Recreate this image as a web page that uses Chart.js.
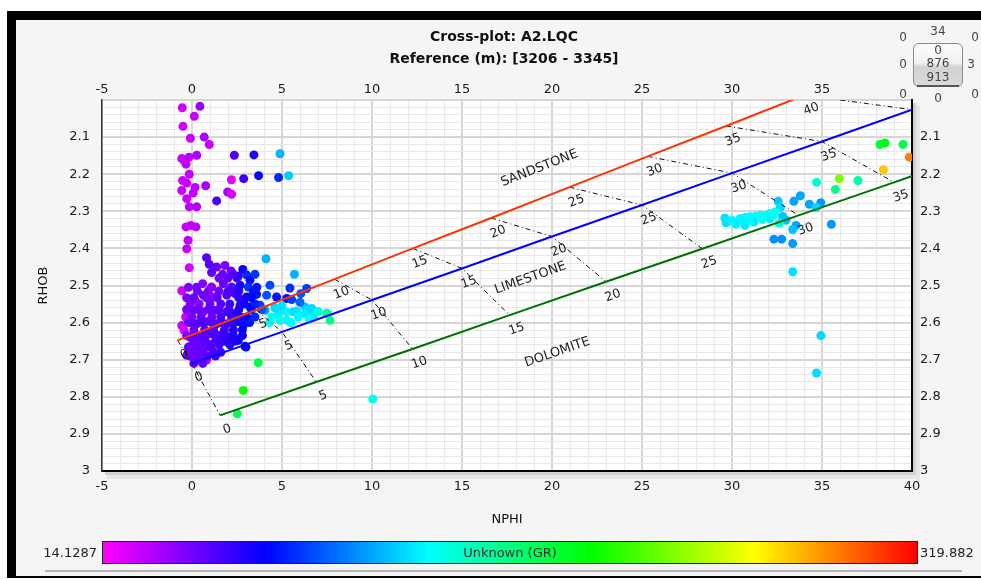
<!DOCTYPE html>
<html>
<head>
<meta charset="utf-8">
<title>Cross-plot: A2.LQC</title>
<script src="https://cdn.jsdelivr.net/npm/chart.js@4.4.0/dist/chart.umd.min.js"></script>
<style>
	html, body { margin: 0; padding: 0; background: #fff; }
	body { width: 981px; height: 579px; position: relative; overflow: hidden; font-family: "DejaVu Sans", Verdana, sans-serif; }
	#frame { position: absolute; left: 7px; top: 11px; width: 974px; height: 567px; box-sizing: border-box;
		border-left: 9px solid #000; border-top: 9px solid #000; border-bottom: 2px solid #000; background: #f5f5f5; }
	#plot { position: absolute; left: 0; top: 0; }
	.nav { position: absolute; transform: translate(-50%, -50%); font-size: 12px; color: #444; line-height: 1; white-space: nowrap; }
	#navbox { position: absolute; left: 913px; top: 43px; width: 50px; height: 44px; box-sizing: border-box; border: 1px solid #8a8a8a;
		border-radius: 6px; background: linear-gradient(#fdfdfd, #f1f1f1 45%, #d2d2d2 55%, #dadada); }
	#navline { position: absolute; left: 917px; top: 85px; width: 42px; height: 2px; background: #555; }
	#cbar { position: absolute; left: 102px; top: 541px; width: 816px; height: 23px; box-sizing: border-box; border: 1px solid #222; }
	#cbarText { position: absolute; left: 0; right: 0; top: 3px; text-align: center; font-size: 13px; color: #333; }
	.cbLabel { position: absolute; top: 545px; font-size: 13px; color: #222; }
	#rule { position: absolute; left: 45px; top: 570px; width: 917px; height: 2px; background: #b4b4b4; }
</style>
</head>
<body>
<div id="frame"></div>
<canvas id="plot" width="981" height="579"></canvas>

<div class="nav" style="left:938px; top:31px;">34</div>
<div class="nav" style="left:903px; top:37px;">0</div>
<div class="nav" style="left:975px; top:37px;">0</div>
<div id="navbox"></div>
<div id="navline"></div>
<div class="nav" style="left:938px; top:50px;">0</div>
<div class="nav" style="left:938px; top:63px;">876</div>
<div class="nav" style="left:938px; top:77px;">913</div>
<div class="nav" style="left:903px; top:64px;">0</div>
<div class="nav" style="left:971px; top:64px;">3</div>
<div class="nav" style="left:903px; top:94px;">0</div>
<div class="nav" style="left:938px; top:98px;">0</div>
<div class="nav" style="left:975px; top:94px;">0</div>

<div id="cbar"><div id="cbarText">Unknown (GR)</div></div>
<div class="cbLabel" id="cbMin" style="right:884px;"></div>
<div class="cbLabel" id="cbMax" style="left:920px;"></div>
<div id="rule"></div>

<script>
// log samples: neutron porosity, bulk density, gamma ray (colour)
const nphi = [
	-0.54, 0.44, 0.13, -0.50, -0.09, 0.68, 0.96, -0.57, -0.44, -0.17, 0.26, -0.33, 2.35, 3.44, 4.89,
	-0.15, -0.52, -0.29, 2.19, 2.87, 3.70, 4.81, 5.37, -0.57, 0.17, 0.06, 0.76, 1.98, 2.20, 1.37,
	-0.29, -0.15, 0.26, -0.33, -0.07, 0.22, -0.22, -0.29, -0.15, -0.57, -0.35, -0.57, -0.44,
	0.81, 0.96, 1.37, 1.83, 1.09, 2.17, 2.82, 4.11, 2.57, 3.04, 3.22, 5.69, 0.59, 1.09, 1.74, 2.20,
	2.67, 3.13, 4.33, 5.44, 0.17, 0.63, 1.19, 1.93, 2.39, 3.04, 3.59, 4.15, 4.70, 5.26, 6.28, 6.46,
	7.48, 7.67, 6.74, 5.81, 5.26, 4.80, 4.43, 4.89, 4.06, 3.78, 3.22, 2.67, 0.07, 0.63, 1.28, 1.93,
	2.39, 3.04, 0.26, 0.81, 1.37, 1.93, 2.48, 2.85, -0.11, 0.44, 1.00, 1.56, 2.02, 2.57, 3.00,
	-0.20, 0.35, 0.91, -0.29, 0.81, 3.68, 6.37, 6.04, 5.54, 6.65, 5.63, 6.28, 7.52, 5.26, 2.94,
	2.85, 2.52, 2.02, 10.04,
	0.30, 0.90, 1.50, 2.00, 2.60, 3.40, -0.10, 0.40, 1.00, 1.60, 2.10, 2.90, 3.50, 0.00, 0.50,
	1.10, 1.60, 2.20, 2.70, 3.50, 0.10, 0.70, 1.20, 1.80, 2.30, 2.80, 0.20, 0.75, 1.30, 1.80,
	2.40, 0.10, 0.60, 1.20, 1.60, 0.20, 0.50, 1.50, 2.00, 2.50,
	-0.20, 0.25, 3.60, -0.30, 0.10, 0.80, 1.40, 2.60, 3.30, -0.30, 0.35, 0.90, 1.50, 2.05, 2.60,
	3.30, 3.90, -0.20, 0.00, 0.55, 1.10, 1.65, 2.20, 3.20, -0.30, 0.25, 0.75, 1.30, 1.85, 2.30,
	2.80, 0.00, 0.60, 1.10, 1.50, 2.10, -0.10, 0.35, 0.85, 1.30, 0.10, 0.60, 1.70, 2.30, 3.50,
	4.60, 5.00, 5.90, 6.50, 4.30, 5.50, 6.00, 7.00,
	38.22, 38.50, 39.50, 39.85, 38.41, 35.96, 37.00, 34.70, 35.74, 33.80, 33.44, 32.57, 34.30,
	34.93, 34.67, 32.68, 32.39, 32.10, 31.83, 31.56, 31.28, 31.00, 30.72, 30.44, 29.60, 29.67,
	30.22, 30.72, 31.22, 32.10, 32.81, 33.00, 32.63, 33.56, 33.37, 35.52, 32.33, 32.76, 33.37,
	33.37, 34.94, 34.70, 31.00, 31.70, 32.30, 30.00
];
const rhob = [
	2.021, 2.017, 2.044, 2.071, 2.103, 2.100, 2.120, 2.158, 2.163, 2.154, 2.149, 2.173, 2.149, 2.148, 2.145,
	2.200, 2.217, 2.224, 2.215, 2.212, 2.204, 2.209, 2.204, 2.244, 2.236, 2.251, 2.231, 2.248, 2.254, 2.272,
	2.266, 2.288, 2.288, 2.342, 2.338, 2.342, 2.378, 2.401, 2.452, 2.514, 2.585, 2.608, 2.621,
	2.425, 2.443, 2.450, 2.446, 2.465, 2.461, 2.457, 2.428, 2.475, 2.472, 2.486, 2.470, 2.495, 2.504, 2.495, 2.504,
	2.499, 2.504, 2.499, 2.507, 2.540, 2.526, 2.531, 2.526, 2.522, 2.531, 2.524, 2.526, 2.531, 2.535, 2.558, 2.567,
	2.574, 2.594, 2.585, 2.569, 2.571, 2.576, 2.585, 2.594, 2.567, 2.553, 2.558, 2.553, 2.567, 2.571, 2.567, 2.571,
	2.576, 2.585, 2.603, 2.598, 2.603, 2.603, 2.598, 2.607, 2.639, 2.639, 2.630, 2.634, 2.639, 2.648, 2.666,
	2.666, 2.670, 2.666, 2.688, 2.701, 2.708, 2.508, 2.522, 2.538, 2.562, 2.571, 2.576, 2.576, 2.594, 2.664,
	2.783, 2.846, 2.652, 2.806,
	2.515, 2.515, 2.515, 2.515, 2.515, 2.515, 2.550, 2.550, 2.550, 2.550, 2.550, 2.550, 2.550, 2.585, 2.585,
	2.585, 2.585, 2.585, 2.585, 2.585, 2.620, 2.620, 2.620, 2.620, 2.620, 2.620, 2.650, 2.650, 2.650, 2.650,
	2.650, 2.680, 2.680, 2.680, 2.680, 2.700, 2.700, 2.480, 2.480, 2.480,
	2.505, 2.505, 2.505, 2.533, 2.533, 2.533, 2.533, 2.533, 2.533, 2.565, 2.565, 2.565, 2.565, 2.565, 2.565,
	2.565, 2.565, 2.600, 2.600, 2.600, 2.600, 2.600, 2.600, 2.600, 2.635, 2.635, 2.635, 2.635, 2.635, 2.635,
	2.635, 2.660, 2.660, 2.660, 2.660, 2.660, 2.690, 2.690, 2.690, 2.690, 2.710, 2.710, 2.470, 2.470, 2.470,
	2.560, 2.555, 2.585, 2.590, 2.600, 2.600, 2.545, 2.570,
	2.120, 2.116, 2.120, 2.154, 2.188, 2.212, 2.217, 2.222, 2.241, 2.258, 2.273, 2.273, 2.281,
	2.277, 2.290, 2.290, 2.302, 2.306, 2.311, 2.311, 2.314, 2.315, 2.317, 2.320, 2.318, 2.331,
	2.335, 2.338, 2.329, 2.320, 2.314, 2.324, 2.332, 2.338, 2.349, 2.335, 2.375, 2.375, 2.387,
	2.463, 2.635, 2.736, 2.325, 2.322, 2.310, 2.325
];
const gr = [
	25, 38, 28, 25, 27, 35, 28, 25, 27, 30, 33, 28, 55, 68, 118,
	28, 25, 27, 20, 62, 72, 84, 124, 27, 30, 28, 35, 35, 22, 58,
	27, 30, 32, 28, 27, 30, 30, 28, 25, 25, 25, 27, 22,
	55, 55, 50, 45, 52, 50, 72, 118, 65, 85, 78, 118, 45, 42, 50, 55,
	70, 88, 92, 86, 48, 52, 40, 55, 58, 72, 80, 95, 80, 78, 125, 128,
	152, 165, 130, 130, 135, 132, 140, 142, 115, 90, 75, 65, 50, 45, 52, 60,
	70, 75, 55, 52, 58, 62, 70, 72, 52, 55, 58, 62, 66, 72, 75,
	50, 55, 55, 48, 30, 182, 90, 95, 90, 128, 130, 132, 158, 135, 72,
	200, 178, 70, 140,
	48, 45, 50, 58, 66, 78, 45, 42, 50, 55, 62, 72, 82, 45, 50,
	48, 56, 64, 70, 85, 52, 58, 55, 60, 68, 75, 50, 55, 60, 64,
	68, 48, 52, 58, 60, 50, 52, 48, 52, 62,
	45, 47, 80, 45, 50, 48, 52, 64, 76, 48, 50, 52, 54, 60, 68,
	78, 95, 50, 52, 56, 55, 60, 66, 80, 48, 52, 55, 58, 63, 68,
	72, 50, 52, 56, 60, 66, 48, 50, 55, 58, 50, 52, 50, 55, 88,
	128, 130, 135, 140, 138, 135, 100, 145,
	185, 195, 178, 290, 272, 228, 158, 148, 165, 115, 115, 125, 115,
	112, 128, 128, 140, 138, 140, 138, 136, 135, 135, 134, 130, 130,
	132, 132, 132, 132, 122, 122, 145, 115, 122, 112, 110, 110, 112,
	130, 128, 128, 135, 138, 140, 134
];
const grMin = 14.1287;
const grMax = 319.882;

// lithology lines, one point per porosity step
const porosity = [0, 5, 10, 15, 20, 25, 30, 35, 40];
const sandNphi = [-0.80, 3.57, 7.92, 12.27, 16.62, 20.97, 25.32, 29.67, 34.02];
const sandRhob = [2.648, 2.566, 2.483, 2.400, 2.318, 2.235, 2.152, 2.070, 1.987];
const limeNphi = [0, 5, 10, 15, 20, 25, 30, 35, 40];
const limeRhob = [2.710, 2.625, 2.539, 2.454, 2.368, 2.283, 2.197, 2.112, 2.026];
const dolNphi = [1.56, 6.90, 12.25, 17.65, 23.00, 28.35, 33.70, 39.00, 44.30];
const dolRhob = [2.850, 2.760, 2.671, 2.580, 2.490, 2.401, 2.311, 2.222, 2.133];
const lithoNames = ["SANDSTONE", "LIMESTONE", "DOLOMITE"];
const lithoNameNphi = [19.3, 18.8, 20.3];
const lithoNameRhob = [2.184, 2.480, 2.680];

const xTicks = [-5, 0, 5, 10, 15, 20, 25, 30, 35, 40];
const yTicks = [2.1, 2.2, 2.3, 2.4, 2.5, 2.6, 2.7, 2.8, 2.9, 3];

const FONT = "'DejaVu Sans', Verdana, sans-serif";
const grStops = [0, 0.2, 0.4, 0.6, 0.8, 1];
const grColours = [[255, 0, 255], [0, 0, 255], [0, 255, 255], [0, 255, 0], [255, 255, 0], [255, 0, 0]];

function grColour(v)
{
	let t = (v - grMin) / (grMax - grMin);
	t = Math.min(1, Math.max(0, t));
	for (let i = 1; i < grStops.length; i++)
	{
		if (t <= grStops[i])
		{
			const f = (t - grStops[i - 1]) / (grStops[i] - grStops[i - 1]);
			const a = grColours[i - 1], b = grColours[i];
			const c = a.map((ch, k) => Math.round(ch + (b[k] - ch) * f));
			return "rgb(" + c.join(",") + ")";
		}
	}
	return "rgb(255,0,0)";
}

// colour bar legend
document.getElementById("cbar").style.background = "linear-gradient(to right, " +
	grStops.map((s, i) => "rgb(" + grColours[i].join(",") + ") " + (s * 100) + "%").join(", ") + ")";
document.getElementById("cbMin").textContent = String(grMin);
document.getElementById("cbMax").textContent = String(grMax);

function isMajor(v, step)
{
	return Math.abs(v / step - Math.round(v / step)) < 1e-6;
}

function pts(xs, ys)
{
	return xs.map((x, i) => ({x: x, y: ys[i]}));
}

function lineSet(xs, ys, colour, width, dash)
{
	return {
		type: "scatter",
		data: pts(xs, ys),
		showLine: true,
		borderColor: colour,
		borderWidth: width,
		borderDash: dash || [],
		pointRadius: 0,
		fill: false
	};
}

const datasets = [];
datasets.push(lineSet(sandNphi, sandRhob, "#ff3300", 2));
datasets.push(lineSet(limeNphi, limeRhob, "#0000ff", 2));
datasets.push(lineSet(dolNphi, dolRhob, "#007000", 2));
porosity.forEach((p, i) =>
{
	datasets.push(lineSet([sandNphi[i], limeNphi[i], dolNphi[i]], [sandRhob[i], limeRhob[i], dolRhob[i]], "#111", 1, [5, 3, 1, 3]));
});
datasets.push({
	type: "scatter",
	data: pts(nphi, rhob),
	pointRadius: 4.5,
	pointBorderWidth: 0,
	pointBackgroundColor: gr.map(grColour),
	pointHoverRadius: 4.5
});

// plot area fill, border shadow and the chart annotations
const overlay = {
	id: "overlay",
	beforeDraw(chart)
	{
		const a = chart.chartArea, ctx = chart.ctx;
		ctx.save();
		ctx.fillStyle = "#ffffff";
		ctx.fillRect(a.left, a.top, a.right - a.left, a.bottom - a.top);
		ctx.fillStyle = "#d2d2d2";
		ctx.fillRect(a.right + 1, a.top + 3, 3, a.bottom - a.top + 4);
		ctx.fillRect(a.left + 3, a.bottom + 1, a.right - a.left + 1, 3);
		ctx.fillStyle = "#e6e6e6";
		ctx.fillRect(a.right + 4, a.top + 5, 4, a.bottom - a.top + 6);
		ctx.fillRect(a.left + 5, a.bottom + 4, a.right - a.left + 3, 4);
		ctx.restore();
	},
	afterDatasetsDraw(chart)
	{
		const a = chart.chartArea, ctx = chart.ctx;
		const xs = chart.scales.x, ys = chart.scales.y;
		const lithos = [[sandNphi, sandRhob], [limeNphi, limeRhob], [dolNphi, dolRhob]];
		ctx.save();
		ctx.beginPath();
		ctx.rect(a.left, a.top, a.right - a.left, a.bottom - a.top);
		ctx.clip();
		ctx.fillStyle = "#222";
		ctx.textAlign = "center";
		ctx.textBaseline = "middle";
		lithos.forEach((l, k) =>
		{
			const px = l[0].map(v => xs.getPixelForValue(v));
			const py = l[1].map(v => ys.getPixelForValue(v));
			const ang = Math.atan2(py[py.length - 1] - py[0], px[px.length - 1] - px[0]);
			ctx.font = "12.5px " + FONT;
			porosity.forEach((p, i) =>
			{
				ctx.save();
				ctx.translate(px[i] + 7, py[i] + 14);
				ctx.rotate(ang);
				ctx.fillText(String(p), 0, 0);
				ctx.restore();
			});
			ctx.save();
			ctx.font = "13px " + FONT;
			ctx.translate(xs.getPixelForValue(lithoNameNphi[k]), ys.getPixelForValue(lithoNameRhob[k]));
			ctx.rotate(ang);
			ctx.fillText(lithoNames[k], 0, 0);
			ctx.restore();
		});
		ctx.restore();
	}
};

const tickFont = {family: FONT, size: 13};
const tickColour = "#1a1a1a";

new Chart(document.getElementById("plot"), {
	type: "scatter",
	data: {datasets: datasets},
	plugins: [overlay],
	options: {
		responsive: false,
		animation: false,
		events: [],
		layout: {padding: {left: 27, right: 0, top: 20, bottom: 52}},
		plugins: {
			legend: {display: false},
			tooltip: {enabled: false},
			title: {
				display: true,
				text: ["Cross-plot: A2.LQC", "Reference (m): [3206 - 3345]"],
				color: "#111",
				font: {family: FONT, size: 14, weight: "bold", lineHeight: 22 / 14},
				padding: {top: 6, bottom: 0}
			}
		},
		scales: {
			x: {
				type: "linear", position: "bottom", min: xTicks[0], max: xTicks[xTicks.length - 1],
				afterFit: s => { s.height = 56; },
				ticks: {stepSize: 1, autoSkip: false, maxRotation: 0, padding: 8, font: tickFont, color: tickColour,
					callback: v => (xTicks.includes(v) ? String(v) : "")},
				grid: {drawTicks: false,
					color: c => (isMajor(c.tick.value, 5) ? "#d6d6d6" : "#e8e8e8"),
					lineWidth: c => (isMajor(c.tick.value, 5) ? 2 : 1)},
				border: {color: "#000", width: 2},
				title: {display: true, text: "NPHI", color: "#111", font: {family: FONT, size: 13}, padding: {top: 0, bottom: 0}}
			},
			x2: {
				type: "linear", position: "top", min: xTicks[0], max: xTicks[xTicks.length - 1],
				afterFit: s => { s.height = 30; },
				ticks: {stepSize: 5, autoSkip: false, maxRotation: 0, padding: 3, font: tickFont, color: tickColour,
					callback: v => (v < 40 ? String(v) : "")},
				grid: {display: false, drawTicks: false},
				border: {display: false}
			},
			y: {
				type: "linear", position: "left", min: 2, max: 3, reverse: true,
				afterFit: s => { s.width = 75; },
				ticks: {stepSize: 0.02, autoSkip: false, padding: 12, font: tickFont, color: tickColour,
					callback: v => (yTicks.some(t => Math.abs(t - v) < 1e-6) ? String(Math.round(v * 10) / 10) : "")},
				grid: {drawTicks: false,
					color: c => (isMajor(c.tick.value, 0.1) ? "#d6d6d6" : "#e8e8e8"),
					lineWidth: c => (isMajor(c.tick.value, 0.1) ? 2 : 1)},
				border: {color: "#333", width: 1.5},
				title: {display: true, text: "RHOB", color: "#111", font: {family: FONT, size: 13}, padding: {top: 9, bottom: 0}}
			},
			y2: {
				type: "linear", position: "right", min: 2, max: 3, reverse: true,
				afterFit: s => { s.width = 69; },
				ticks: {stepSize: 0.1, autoSkip: false, padding: 8, font: tickFont, color: tickColour,
					callback: v => (yTicks.some(t => Math.abs(t - v) < 1e-6) ? String(Math.round(v * 10) / 10) : "")},
				grid: {display: false, drawTicks: false},
				border: {color: "#000", width: 2}
			}
		}
	}
});
</script>
</body>
</html>
